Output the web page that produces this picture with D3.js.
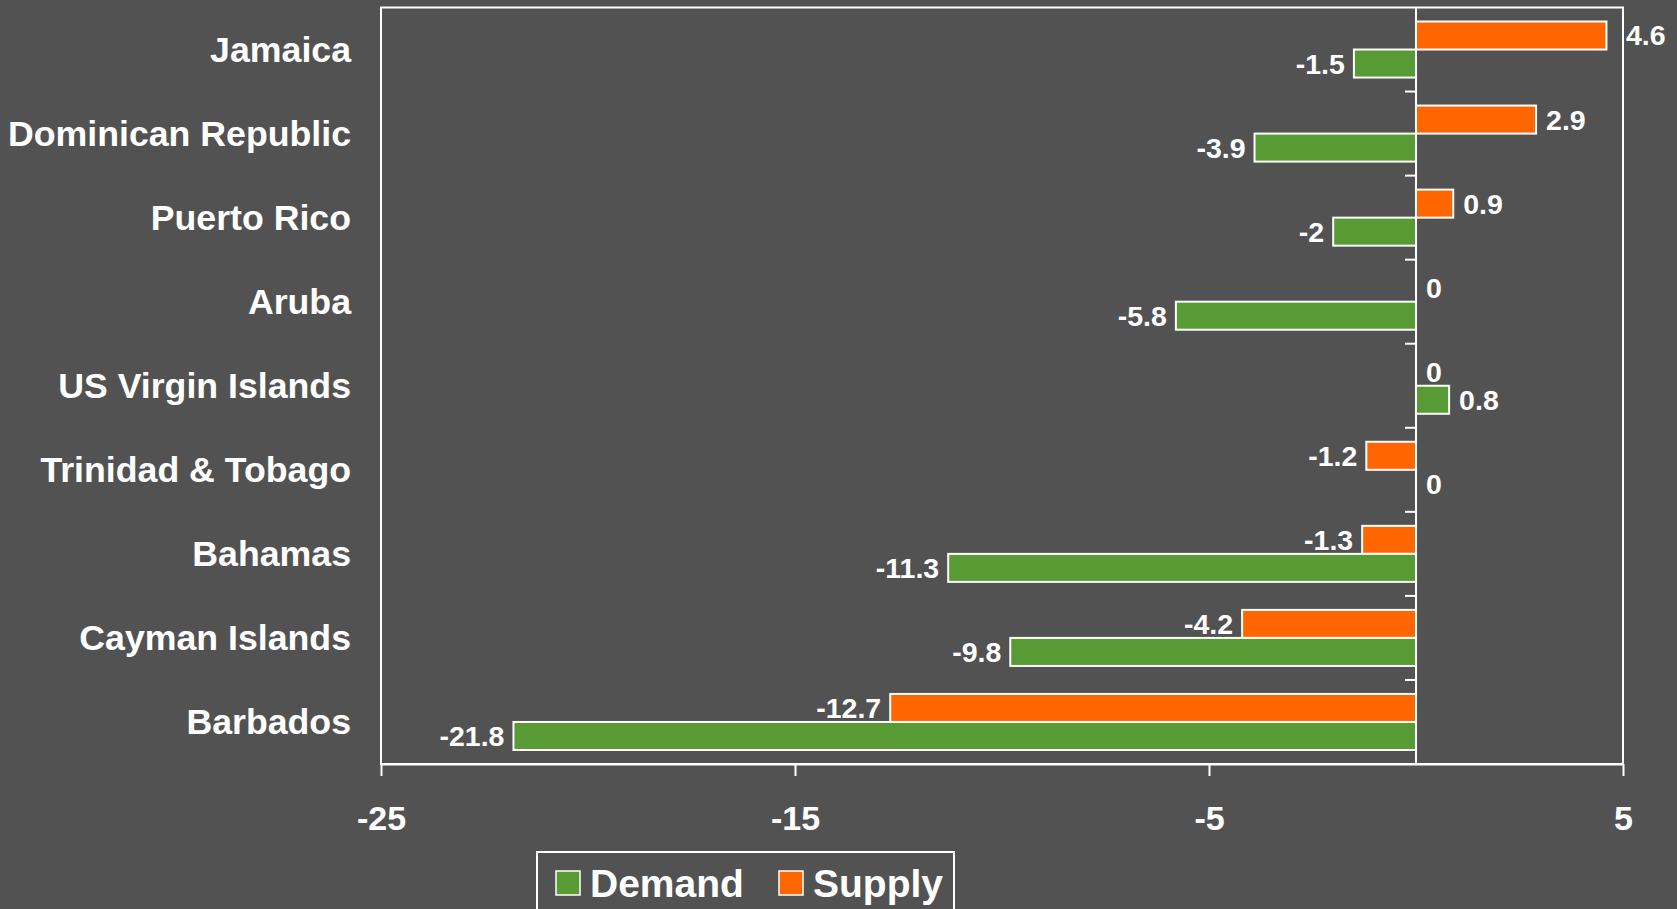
<!DOCTYPE html>
<html>
<head>
<meta charset="utf-8">
<script src="https://cdn.jsdelivr.net/npm/d3@7"></script>
<style>
  body { margin: 0; background: #525252; }
  svg { display: block; font-family: "Liberation Sans", Arial, sans-serif; font-weight: bold; }
</style>
</head>
<body>
<div id="chart"></div>
<script>
// chart data, top to bottom
const countries = ["Jamaica", "Dominican Republic", "Puerto Rico", "Aruba", "US Virgin Islands",
  "Trinidad & Tobago", "Bahamas", "Cayman Islands", "Barbados"];
const demand = [-1.5, -3.9, -2, -5.8, 0.8, 0, -11.3, -9.8, -21.8];
const supply = [4.6, 2.9, 0.9, 0, 0, -1.2, -1.3, -4.2, -12.7];
const xTicks = [-25, -15, -5, 5];
const seriesNames = ["Supply", "Demand"]; // order inside each band
const legendNames = ["Demand", "Supply"];

const colors = { Demand: "#589a34", Supply: "#ff6600" };

const width = 1677, height = 909;
const plot = { left: 381, right: 1623, top: 7.5, bottom: 764 };

const svg = d3.select("#chart").append("svg")
  .attr("width", width)
  .attr("height", height);

const x = d3.scaleLinear().domain([-25, 5]).range([plot.left, plot.right]);
const y = d3.scaleBand().domain(countries).range([plot.top, plot.bottom])
  .paddingInner(1 / 3).paddingOuter(1 / 6);
const ySub = d3.scaleBand().domain(seriesNames).range([0, y.bandwidth()]);

const rows = countries.map((c, i) => ({ country: c, Demand: demand[i], Supply: supply[i] }));

// frame
svg.append("rect")
  .attr("x", plot.left).attr("y", plot.top)
  .attr("width", plot.right - plot.left).attr("height", plot.bottom - plot.top)
  .attr("fill", "none").attr("stroke", "#fff").attr("stroke-width", 2);

// x axis
const xAxis = svg.append("g")
  .attr("transform", `translate(0,${plot.bottom})`)
  .call(d3.axisBottom(x).tickValues(xTicks).tickFormat((d) => String(d))
    .tickSize(12).tickPadding(30).tickSizeOuter(0));
xAxis.select(".domain").attr("stroke", "#fff").attr("stroke-width", 2);
xAxis.selectAll(".tick line").attr("stroke", "#fff").attr("stroke-width", 2);
xAxis.selectAll(".tick text")
  .attr("fill", "#fff")
  .style("font-size", "34px")
  .style("font-weight", "bold")
  .style("font-family", "'Liberation Sans Narrow', 'Liberation Sans', Arial, sans-serif");

// vertical zero axis with ticks between categories
svg.append("line")
  .attr("x1", x(0)).attr("x2", x(0))
  .attr("y1", plot.top).attr("y2", plot.bottom)
  .attr("stroke", "#fff").attr("stroke-width", 2);
const step = y.step();
svg.append("g").selectAll("line")
  .data(d3.range(1, countries.length))
  .join("line")
  .attr("x1", x(0) - 11).attr("x2", x(0))
  .attr("y1", (i) => plot.top + i * step)
  .attr("y2", (i) => plot.top + i * step)
  .attr("stroke", "#fff").attr("stroke-width", 2);

// category labels
svg.append("g").selectAll("text")
  .data(countries)
  .join("text")
  .attr("x", 351)
  .attr("y", (d) => y(d) + y.bandwidth() / 2)
  .attr("dy", "0.35em")
  .attr("text-anchor", "end")
  .attr("fill", "#fff")
  .style("font-size", "35.7px")
  .text((d) => d);

// bars
const groups = svg.append("g").selectAll("g")
  .data(rows)
  .join("g")
  .attr("transform", (d) => `translate(0,${y(d.country)})`);

groups.selectAll("rect")
  .data((d) => seriesNames.map((s) => ({ key: s, value: d[s] })).filter((v) => v.value !== 0))
  .join("rect")
  .attr("x", (d) => x(Math.min(0, d.value)))
  .attr("y", (d) => ySub(d.key))
  .attr("width", (d) => Math.abs(x(d.value) - x(0)))
  .attr("height", ySub.bandwidth())
  .attr("fill", (d) => colors[d.key])
  .attr("stroke", "#fff")
  .attr("stroke-width", 2);

// value labels (a label that would hit the frame goes outside it)
function labelX(d) {
  if (d.value < 0) return x(d.value) - 9;
  const lx = x(d.value) + 10;
  return lx + 45 > plot.right && lx < plot.right ? plot.right + 3 : lx;
}
groups.selectAll("text")
  .data((d) => seriesNames.map((s) => ({ key: s, value: d[s] })))
  .join("text")
  .attr("x", labelX)
  .attr("y", (d) => ySub(d.key) + ySub.bandwidth() / 2)
  .attr("dy", "0.35em")
  .attr("text-anchor", (d) => (d.value < 0 ? "end" : "start"))
  .attr("fill", "#fff")
  .style("font-size", "28.5px")
  .text((d) => d.value);

// legend
const legend = svg.append("g").attr("transform", "translate(537,852)");
legend.append("rect")
  .attr("width", 417).attr("height", 70)
  .attr("fill", "none").attr("stroke", "#fff").attr("stroke-width", 2);
const legendOffsets = [19, 242];
const legendItem = legend.selectAll(".legend-item")
  .data(legendNames)
  .join("g")
  .attr("class", "legend-item")
  .attr("transform", (d, i) => `translate(${legendOffsets[i]},19)`);
legendItem.append("rect")
  .attr("width", 24).attr("height", 24)
  .attr("fill", (d) => colors[d])
  .attr("stroke", "#fff").attr("stroke-width", 1.5);
legendItem.append("text")
  .attr("x", 34).attr("y", 12)
  .attr("dy", "0.36em")
  .attr("fill", "#fff")
  .style("font-size", "39px")
  .text((d) => d);
</script>
</body>
</html>
